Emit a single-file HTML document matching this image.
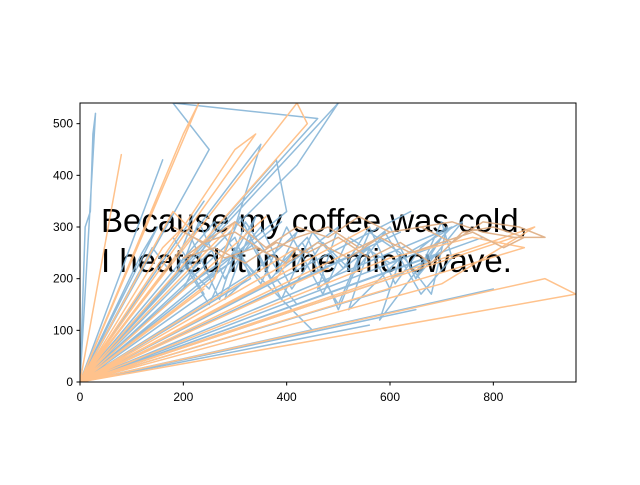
<!DOCTYPE html>
<html><head><meta charset="utf-8"><style>
body{margin:0;background:#fff;}
svg text{font-family:"Liberation Sans","DejaVu Sans",sans-serif;}
</style></head><body>
<svg id="chart" width="640" height="480" xmlns="http://www.w3.org/2000/svg">
<rect width="640" height="480" fill="#fff"/>
<text x="101" y="232" font-size="33" fill="#000">Because my coffee was cold,</text>
<text x="101" y="272" font-size="33" fill="#000">I heated it in the microwave.</text>
<g id="plot" opacity="0.85"></g>
<rect x="80" y="103" width="496" height="279" fill="none" stroke="#000" stroke-width="1"/>
<g id="ticks"></g>
</svg>
<script>
const xTicks=[0,200,400,600,800];
const yTicks=[0,100,200,300,400,500];
const blueX=[0,10,20,25,30,0,160,0,120,150,0,240,0,300,330,0,500,420,0,640,0,700,600,0,800,0,420,380,0,560,600,0,460,180,250,0,350,300,0,620,0,180,200,240,0,720,680,0,380,400,0,560,0,260,330,0,780,0,450,300,210,0,650,0,140,170,0,390,0];
const blueY=[0,300,330,480,520,0,430,0,250,300,0,350,0,280,200,0,540,420,0,330,0,250,200,0,180,0,150,200,0,260,180,0,510,540,450,0,460,300,0,290,0,200,240,170,0,300,260,0,430,330,0,110,0,310,210,0,280,0,100,250,190,0,140,0,260,220,0,310,0];
const blueWX=[180,220,260,200,300,340,280,420,380,500,460,560,520,620,580,700,650,740,600,520,470,400,350,300,250,200,230,280,330,390,450,510,560,610,660,710,680,620,560,500,430,370,310,250,190,210,270,320,380,440,500,550,600,650,700,720,660,590,530,470,410,350,290,230];
const blueWY=[280,220,300,180,250,320,160,290,210,300,180,260,140,240,120,280,200,310,230,280,170,300,190,260,150,230,310,200,270,160,290,220,300,190,260,300,170,250,290,150,270,200,320,180,240,290,160,310,220,280,140,260,300,200,310,240,170,290,210,270,180,300,230,190];
const orangeX=[0,80,0,230,200,0,300,340,0,420,440,0,160,200,0,360,0,560,0,600,760,860,0,960,900,0,840,0,480,0,380,420,0,700,880,0,300,260,0,560,0,240,0,400,0,180,220,0];
const orangeY=[0,440,0,540,480,0,450,480,0,540,500,0,260,300,0,320,0,300,0,240,280,260,0,170,200,0,280,0,220,0,200,260,0,190,300,0,310,200,0,270,0,180,0,230,0,330,290,0];
const orangeWX=[180,240,300,360,420,480,540,600,660,720,780,840,900,850,780,720,660,600,540,480,420,360,300,240,200,260,320,380,440,500,560,620,680,740,800,860,820,760,700,640,580,520,460,400,340,280,220];
const orangeWY=[300,270,310,260,300,280,320,290,300,310,290,280,280,300,310,270,300,290,260,300,280,250,290,270,240,260,230,270,250,280,240,270,230,290,300,280,260,290,270,250,280,240,270,230,260,240,280];
const X0=80,W=496,Y0=382,H=279,XMAX=960,YMAX=540;
const sx=v=>X0+v/XMAX*W, sy=v=>Y0-v/YMAX*H;
const NS="http://www.w3.org/2000/svg";
const plot=document.getElementById('plot');
const clip=document.createElementNS(NS,'clipPath');clip.id='c';
const cr=document.createElementNS(NS,'rect');
cr.setAttribute('x',X0);cr.setAttribute('y',103);cr.setAttribute('width',W);cr.setAttribute('height',H);
clip.appendChild(cr);plot.appendChild(clip);
plot.setAttribute('clip-path','url(#c)');
function line(xs,ys,color,name){
  const p=document.createElementNS(NS,'polyline');
  p.setAttribute('points',xs.map((x,i)=>sx(x)+','+sy(ys[i])).join(' '));
  p.setAttribute('fill','none');p.setAttribute('stroke',color);p.setAttribute('stroke-width','1.5');
  p.setAttribute('stroke-linejoin','round');
  
  
  plot.appendChild(p);
}
line(blueX,blueY,'#7fb1d5','blue-series-line');
line(blueWX,blueWY,'#7fb1d5','blue-cluster-line');
line(orangeX,orangeY,'#ffb878','orange-series-line');
line(orangeWX,orangeWY,'#dca77a','orange-cluster-line');
const tg=document.getElementById('ticks');
xTicks.forEach(v=>{
  const l=document.createElementNS(NS,'line');
  l.setAttribute('x1',sx(v));l.setAttribute('x2',sx(v));l.setAttribute('y1',382);l.setAttribute('y2',385.5);l.setAttribute('stroke','#000');
  
  
  tg.appendChild(l);
  const t=document.createElementNS(NS,'text');
  t.setAttribute('x',sx(v));t.setAttribute('y',401);t.setAttribute('font-size','12');t.setAttribute('text-anchor','middle');t.textContent=v;
  
  
  tg.appendChild(t);
});
yTicks.forEach(v=>{
  const l=document.createElementNS(NS,'line');
  l.setAttribute('x1',76.5);l.setAttribute('x2',80);l.setAttribute('y1',sy(v));l.setAttribute('y2',sy(v));l.setAttribute('stroke','#000');
  
  
  tg.appendChild(l);
  const t=document.createElementNS(NS,'text');
  t.setAttribute('x',73);t.setAttribute('y',sy(v)+4);t.setAttribute('font-size','12');t.setAttribute('text-anchor','end');t.textContent=v;
  
  
  tg.appendChild(t);
});
</script>
</body></html>
